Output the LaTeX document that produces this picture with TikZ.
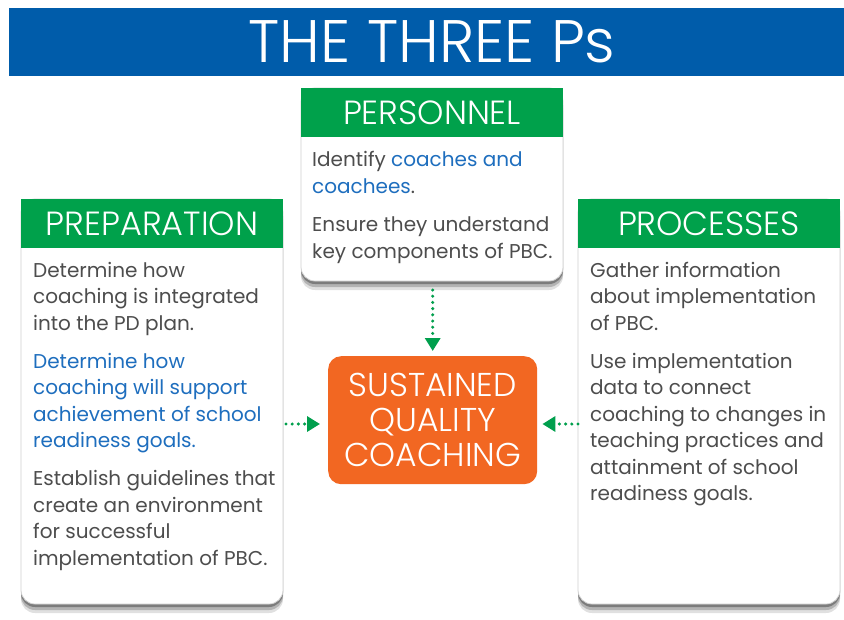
\documentclass[tikz,border=0pt]{standalone}
\usepackage{fontspec}
\setmainfont{Poppins}
\IfFontExistsTF{Poppins Light}{\newfontfamily\lightfont{Poppins Light}}{\newfontfamily\lightfont{Poppins}}
\usetikzlibrary{arrows.meta}
\definecolor{titleblue}{HTML}{005CAA}
\definecolor{hdrgreen}{HTML}{00A14B}
\definecolor{boxorange}{HTML}{F26722}
\definecolor{textgray}{HTML}{4D4D4D}
\definecolor{textblue}{HTML}{1E6EBE}
\definecolor{arrowgreen}{HTML}{009F4D}
\tikzset{
  titlebar/.style={fill=titleblue, draw=none, inner sep=0pt, outer sep=0pt},
  hdr/.style={fill=hdrgreen, draw=none, inner sep=0pt, outer sep=0pt, text=white,
    font=\lightfont\fontsize{33.5}{33.5}\selectfont, minimum width=262pt, minimum height=49pt},
  bodybox/.style={fill=white, draw=black!18, line width=0.8pt, rounded corners=14pt,
    inner sep=0pt, outer sep=0pt, minimum width=262pt,
    preaction={fill=black, opacity=0.12, transform canvas={yshift=-9pt}},
    preaction={fill=black, opacity=0.20, transform canvas={yshift=-6pt}},
    preaction={fill=black, opacity=0.30, transform canvas={yshift=-3pt}}},
  bodytext/.style={align=left, inner sep=0pt, text=textgray,
    font=\fontsize{20}{26.5}\selectfont},
  centerbox/.style={fill=boxorange, rounded corners=13pt, inner sep=0pt, text=white,
    align=center, font=\lightfont\fontsize{33}{35}\selectfont},
  dotarrow/.style={arrowgreen, line width=3.4pt, line cap=round,
    dash pattern=on 0pt off 6.2pt,
    -{Triangle[width=15pt,length=13pt,line cap=butt]}}
}
\begin{document}
\begin{tikzpicture}[x=1pt,y=-1pt]
\useasboundingbox (0,0) rectangle (844,619);
\fill[white] (0,0) rectangle (844,619);

% title
\node[titlebar, minimum width=835pt, minimum height=68pt, anchor=north west] (titlebar) at (9,8) {};
\node[text=white, font=\lightfont\fontsize{60}{60}\selectfont, inner sep=0pt] (title) at (432,42) {THE THREE Ps};

% personnel
\node[bodybox, minimum height=193pt, anchor=north west] (persbody) at (301,88) {};
\node[hdr, anchor=north west] (pershead) at (301,88) {PERSONNEL};
\node[bodytext, anchor=base west] (perstext) at (312,258)
  {Identify \textcolor{textblue}{coaches and}\\\textcolor{textblue}{coachees}.\\[12pt]Ensure they understand\\key components of PBC.};

% preparation
\node[bodybox, minimum height=405pt, anchor=north west] (prepbody) at (21,199) {};
\node[hdr, anchor=north west] (prephead) at (21,199) {PREPARATION};
\node[bodytext, anchor=base west] (preptext) at (33,565)
  {Determine how\\coaching is integrated\\into the PD plan.\\[11.5pt]
   \textcolor{textblue}{Determine how}\\\textcolor{textblue}{coaching will support}\\\textcolor{textblue}{achievement of school}\\\textcolor{textblue}{readiness goals.}\\[11.5pt]
   Establish guidelines that\\create an environment\\for successful\\implementation of PBC.};

% processes
\node[bodybox, minimum height=405pt, anchor=north west] (procbody) at (578,199) {};
\node[hdr, anchor=north west] (prochead) at (578,199) {PROCESSES};
\node[bodytext, anchor=base west] (proctext) at (590,500.5)
  {Gather information\\about implementation\\of PBC.\\[11.5pt]
   Use implementation\\data to connect\\coaching to changes in\\teaching practices and\\attainment of school\\readiness goals.};

% center
\node[centerbox, minimum width=209pt, minimum height=128pt, anchor=north west] (sqc) at (328,356)
  {SUSTAINED\\QUALITY\\COACHING};

% arrows
\draw[dotarrow, shorten <=9pt, shorten >=5pt] (persbody.south -| sqc.north) -- (sqc.north);
\coordinate (lstart) at (286,424);
\coordinate (rstart) at (578,424);
\draw[dotarrow, shorten >=8pt] (lstart) -- (lstart -| sqc.west);
\draw[dotarrow, shorten >=5pt] (rstart) -- (rstart -| sqc.east);
\end{tikzpicture}
\end{document}
